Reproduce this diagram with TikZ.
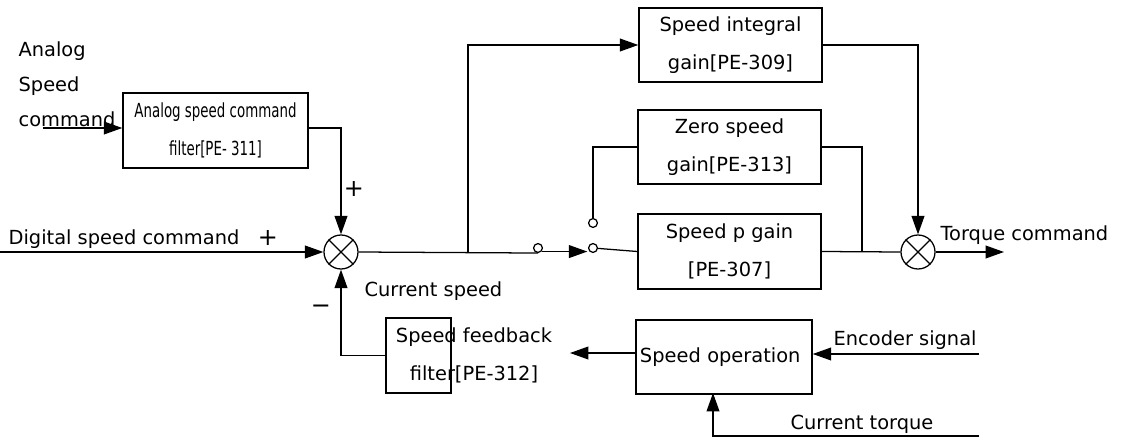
\documentclass[tikz,border=0pt]{standalone}
\usepackage{fontspec}
\setmainfont{DejaVu Sans}
\newfontfamily\narrowfont[FakeStretch=0.69]{DejaVu Sans}
\usetikzlibrary{arrows.meta}

\begin{document}
\begin{tikzpicture}[x=0.025cm,y=-0.025cm,
  font=\fontsize{13.8}{26.9}\selectfont,
  line width=0.9pt,
  >={Triangle[length=0.46cm,width=0.32cm]},
  blk/.style={draw,line width=1pt,minimum width=4.575cm,minimum height=1.85cm,align=center,inner sep=1pt},
  sumj/.style={draw,circle,minimum size=0.85cm,inner sep=0pt},
  swc/.style={draw,circle,minimum size=0.22cm,inner sep=0pt,fill=white},
  lbl/.style={anchor=west,inner sep=0pt},
  sgn/.style={font=\fontsize{17}{17}\selectfont,inner sep=0pt}]
  \useasboundingbox (0,0) rectangle (1131,440);

  \node[blk,minimum width=4.625cm,minimum height=1.875cm,font=\narrowfont\fontsize{13.8}{26.9}\selectfont] (afilt) at (215.5,130.5) {Analog speed command\\filter[PE- 311]};
  \node[blk] (sint) at (730.5,45) {Speed integral\\gain[PE-309]};
  \node[blk] (zsp) at (729.5,147) {Zero speed\\gain[PE-313]};
  \node[blk,minimum height=1.875cm] (spg) at (729.5,251.5) {Speed p gain\\{}[PE-307]};
  \node[blk,minimum width=1.625cm,minimum height=1.875cm] (sfb) at (418.5,355.5) {};
  \node[align=center,inner sep=0pt] (sfbt) at (474,355) {Speed feedback\\filter[PE-312]};
  \node[blk,minimum width=4.4cm,text width=4.2cm,inner sep=0.1cm,align=left] (sop) at (724,357) {Speed operation};

  \node[sumj] (s1) at (341,252) {};
  \node[sumj] (s2) at (918,252) {};
  \foreach \s in {s1,s2}
    \draw (\s.45) -- (\s.225) (\s.135) -- (\s.315);

  \node[swc] (c1) at (538,248) {};
  \node[swc] (c2) at (593,248) {};
  \node[swc] (c3) at (593,223) {};

  \coordinate (ain) at (43,128);
  \coordinate (din) at (0,252);
  \coordinate (br) at (468,252);
  \coordinate (jn) at (862,252);
  \coordinate (tout) at (1004,252);
  \coordinate (fbtip) at (570,353);
  \coordinate (enc) at (979,354);
  \coordinate (ctq) at (979,436);
  \coordinate (tqin) at (713,393);

  \draw[->] (ain) -- (ain -| afilt.west);
  \draw[->] (afilt.east |- ain) -| (s1.north);
  \draw[->] (din) -- (s1.west);
  \draw (s1.east) -- (c1.south);
  \draw[->,shorten >=1.5pt] (c1.south east) -- (c2.south west);
  \draw (c2) -- (spg.west);
  \draw[->] (br) |- (sint.west);
  \draw (c3) |- (zsp.west);
  \draw (zsp.east) -| (jn);
  \draw (spg.east) -- (s2.west);
  \draw[->] (sint.east) -| (s2.north);
  \draw[->] (s2.east) -- (tout);
  \draw[->] (sop.west |- fbtip) -- (fbtip);
  \draw[->] (sfb.west) -| (s1.south);
  \draw[->] (enc) -- (enc -| sop.east);
  \draw[->] (ctq) -| (tqin);

  \node[lbl,align=left,font=\fontsize{13.8}{24.8}\selectfont] (atxt) at (18,84) {Analog\\Speed\\command};
  \node[sgn] (p1) at (354,189) {+};
  \node[lbl] (dtxt) at (8,239) {Digital speed command};
  \node[sgn] (p2) at (268,238) {+};
  \node[sgn] (m1) at (321,309) {−};
  \node[lbl] (cspd) at (364,291) {Current speed};
  \node[lbl] (ttxt) at (940,235) {Torque command};
  \node[lbl] (etxt) at (833,340) {Encoder signal};
  \node[lbl] (cttxt) at (790,424) {Current torque};
\end{tikzpicture}
\end{document}
